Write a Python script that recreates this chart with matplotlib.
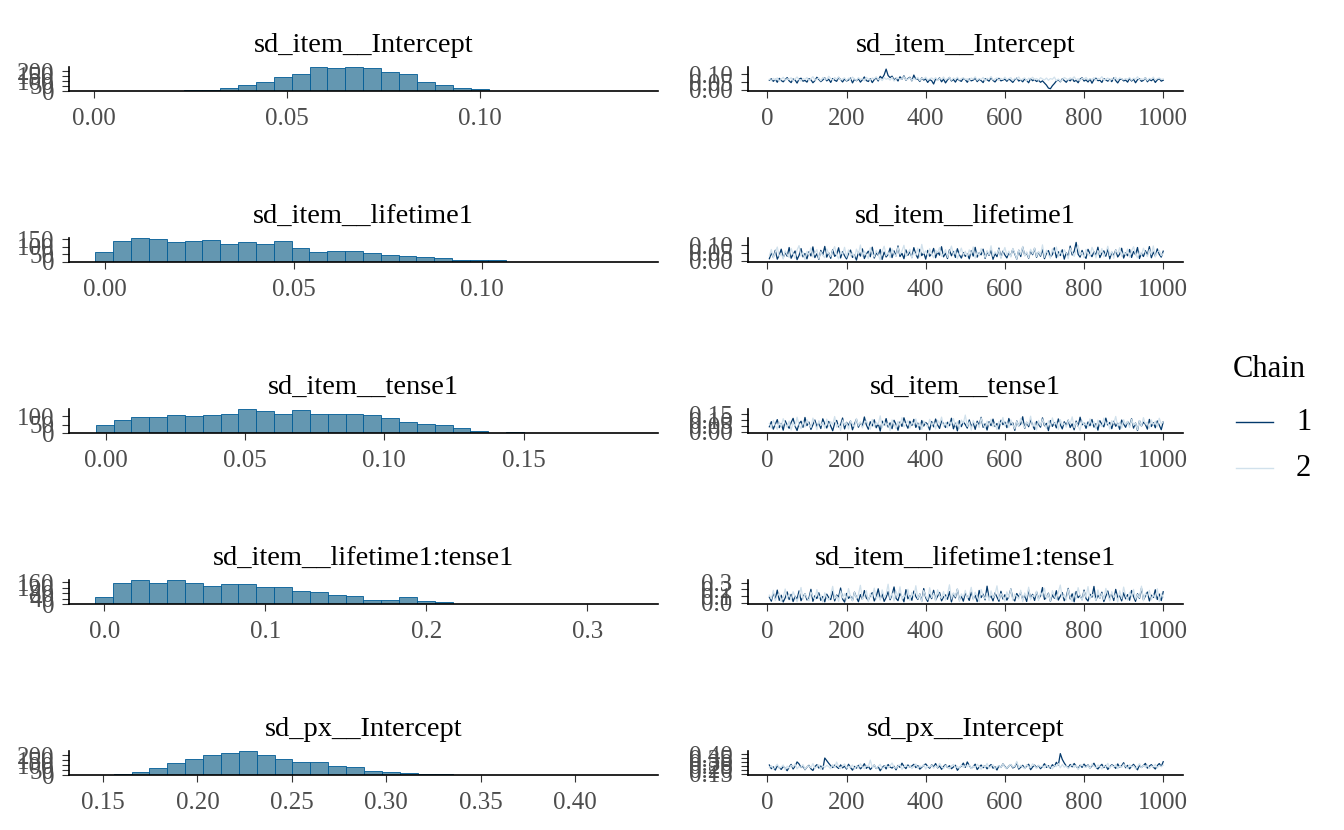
import numpy as np
import matplotlib.pyplot as plt
from matplotlib.lines import Line2D

plt.rcParams['font.family'] = ['Liberation Serif', 'DejaVu Serif']

# ---- data ----
params = ["sd_item__Intercept", "sd_item__lifetime1", "sd_item__tense1",
          "sd_item__lifetime1:tense1", "sd_px__Intercept"]

# histogram bins: first visible bin left edge, bin width, counts
hist_start = [0.0233, -0.0026, -0.0035, -0.0056, 0.1557]
hist_width = [0.00465, 0.00473, 0.0064, 0.0111, 0.00946]
counts_1 = [13, 13, 27, 60, 87, 137, 167, 240, 227, 240, 227, 187, 167, 87, 60, 27, 17]
counts_2 = [69, 138, 159, 152, 131, 138, 145, 117, 131, 117, 138, 90, 69, 76, 76, 62,
            48, 41, 35, 28, 14, 14, 14]
counts_3 = [50, 79, 92, 92, 107, 98, 107, 113, 142, 130, 111, 136, 111, 111, 111, 105,
            86, 63, 56, 50, 31, 13, 2, 6]
counts_4 = [48, 154, 177, 154, 177, 157, 132, 147, 147, 124, 124, 94, 86, 63, 56, 33,
            33, 48, 25, 18]
counts_5 = [11, 33, 67, 123, 167, 201, 223, 246, 201, 167, 134, 134, 89, 78, 45, 33, 22, 11, 11]
hist_counts = [counts_1, counts_2, counts_3, counts_4, counts_5]

# axis limits (value axis, shared by hist x and trace y)
value_lims = [(-0.0065, 0.1463), (-0.0095, 0.1466), (-0.0130, 0.1982),
              (-0.0218, 0.3438), (0.1322, 0.4438)]
hist_yticks = [[0, 50, 100, 150, 200], [0, 50, 100, 150], [0, 50, 100],
               [0, 40, 80, 120, 160], [0, 50, 100, 150, 200]]
value_ticks = [[0.00, 0.05, 0.10], [0.00, 0.05, 0.10], [0.00, 0.05, 0.10, 0.15],
               [0.0, 0.1, 0.2, 0.3], [0.15, 0.20, 0.25, 0.30, 0.35, 0.40]]
value_fmt = ["%.2f", "%.2f", "%.2f", "%.1f", "%.2f"]

# trace draws (in thousandths), every 5th iteration
iterations = np.arange(5, 1001, 5)
iter_ticks = [0, 200, 400, 600, 800, 1000]

trace_1_c1 = [62, 71, 55, 68, 49, 74, 60, 52, 66, 79, 58, 47, 70, 63, 44, 69, 75, 56, 61, 50,
              72, 65, 46, 59, 81, 67, 53, 64, 77, 58, 69, 48, 73, 62, 55, 80, 66, 51, 70, 57,
              63, 76, 45, 68, 59, 72, 50, 65, 83, 60, 54, 71, 47, 66, 78, 57, 87, 74, 96, 133,
              92, 79, 88, 64, 75, 57, 84, 69, 90, 62, 73, 81, 58, 95, 67, 71, 54, 77, 63, 70,
              48, 66, 59, 38, 71, 63, 77, 52, 69, 45, 64, 80, 57, 67, 50, 72, 61, 55, 74, 66,
              49, 70, 58, 63, 76, 53, 68, 60, 47, 72, 65, 56, 79, 61, 51, 67, 74, 58, 63, 69,
              55, 71, 60, 48, 66, 75, 57, 64, 52, 70, 61, 46, 73, 59, 67, 54, 62, 49, 58, 44,
              31, 12, 8, 27, 41, 57, 65, 52, 71, 60, 49, 67, 58, 73, 54, 62, 46, 69, 78, 57,
              64, 51, 70, 43, 66, 75, 59, 62, 48, 72, 64, 56, 68, 53, 77, 60, 45, 66, 71, 58,
              63, 50, 74, 57, 69, 46, 65, 72, 55, 61, 78, 52, 67, 59, 70, 48, 64, 73, 56, 62]
trace_1_c2 = [68, 59, 74, 63, 77, 56, 69, 81, 61, 72, 66, 78, 58, 70, 83, 64, 57, 73, 67, 79,
              60, 71, 85, 62, 69, 76, 58, 80, 72, 66, 87, 74, 61, 79, 68, 83, 63, 71, 77, 59,
              75, 66, 82, 70, 61, 78, 67, 73, 58, 80, 69, 62, 76, 71, 84, 65, 73, 60, 79, 68,
              74, 63, 81, 57, 70, 77, 66, 72, 85, 64, 69, 78, 61, 73, 67, 80, 59, 75, 70, 82,
              63, 71, 77, 66, 79, 60, 74, 68, 83, 65, 72, 79, 62, 76, 69, 81, 64, 73, 78, 67,
              71, 58, 76, 69, 84, 62, 73, 66, 80, 59, 75, 68, 86, 64, 70, 77, 61, 74, 67, 82,
              65, 72, 79, 60, 74, 68, 83, 63, 71, 77, 58, 75, 69, 81, 66, 73, 62, 78, 70, 64,
              76, 61, 73, 68, 82, 59, 70, 55, 66, 79, 72, 63, 77, 69, 84, 65, 71, 60, 75, 68,
              80, 64, 72, 67, 78, 61, 74, 70, 85, 63, 69, 76, 58, 73, 66, 81, 62, 77, 71, 65,
              73, 68, 79, 62, 75, 70, 84, 64, 71, 66, 78, 60, 74, 69, 82, 63, 72, 76, 67, 70]

trace_2_c1 = [12, 48, 21, 67, 9, 35, 74, 18, 52, 28, 85, 15, 41, 62, 6, 33, 78, 24, 46, 11,
              57, 30, 89, 19, 44, 8, 66, 37, 92, 22, 50, 14, 71, 27, 40, 83, 17, 58, 31, 10,
              45, 68, 20, 36, 3, 54, 29, 76, 13, 42, 61, 25, 87, 16, 49, 34, 72, 7, 55, 23,
              39, 81, 19, 63, 30, 95, 26, 47, 12, 69, 34, 58, 21, 84, 40, 15, 73, 32, 51, 9,
              66, 28, 44, 79, 18, 56, 35, 90, 24, 48, 13, 70, 31, 59, 20, 77, 38, 16, 52, 27,
              43, 11, 64, 29, 86, 22, 50, 37, 74, 14, 57, 33, 68, 8, 45, 25, 81, 19, 61, 36,
              17, 53, 30, 75, 42, 10, 67, 26, 88, 34, 49, 15, 62, 38, 79, 21, 55, 28, 71, 12,
              46, 65, 24, 39, 83, 18, 57, 32, 70, 9, 51, 27, 94, 36, 60, 118, 41, 22, 66, 30,
              14, 73, 44, 25, 58, 35, 87, 19, 48, 63, 28, 77, 11, 54, 33, 69, 23, 42, 80, 16,
              50, 31, 72, 20, 59, 38, 85, 13, 47, 26, 64, 36, 91, 18, 55, 29, 76, 40, 22, 61]
trace_2_c2 = [31, 72, 16, 55, 88, 25, 46, 10, 63, 39, 20, 79, 43, 14, 68, 97, 29, 52, 7, 60,
              37, 82, 23, 49, 71, 12, 58, 33, 18, 75, 45, 26, 64, 91, 35, 11, 57, 40, 86, 22,
              69, 30, 50, 17, 74, 42, 101, 27, 61, 36, 13, 83, 47, 24, 66, 38, 5, 59, 93, 32,
              53, 19, 76, 44, 28, 87, 41, 62, 99, 26, 48, 73, 15, 56, 34, 80, 22, 105, 45, 63,
              30, 77, 41, 18, 67, 52, 84, 27, 43, 71, 21, 58, 94, 36, 64, 12, 49, 81, 33, 60,
              25, 70, 39, 89, 16, 54, 31, 78, 46, 20, 65, 37, 96, 28, 57, 42, 74, 14, 51, 85,
              34, 61, 23, 79, 48, 11, 68, 40, 92, 29, 56, 18, 73, 44, 83, 26, 59, 35, 102, 21,
              67, 38, 15, 76, 50, 88, 24, 62, 32, 70, 47, 13, 81, 55, 27, 64, 98, 36, 53, 19,
              72, 43, 29, 86, 58, 17, 65, 39, 78, 24, 51, 93, 33, 60, 14, 69, 45, 84, 28, 56,
              37, 75, 21, 63, 90, 42, 18, 57, 34, 80, 49, 26, 71, 38, 95, 23, 54, 66, 31, 47]

trace_3_c1 = [42, 87, 21, 63, 105, 34, 71, 12, 95, 56, 28, 79, 116, 47, 9, 68, 91, 37, 124, 52,
              83, 18, 60, 101, 44, 75, 26, 112, 65, 31, 89, 49, 7, 72, 98, 40, 61, 119, 23, 81,
              55, 93, 15, 67, 108, 38, 77, 46, 128, 59, 20, 86, 50, 103, 33, 70, 4, 92, 57, 114,
              39, 76, 25, 99, 62, 11, 84, 45, 121, 66, 29, 90, 53, 107, 36, 74, 17, 97, 48, 80,
              63, 14, 88, 41, 110, 58, 27, 94, 69, 35, 82, 51, 117, 24, 73, 6, 96, 43, 85, 61,
              30, 102, 47, 78, 19, 91, 56, 125, 37, 68, 13, 87, 52, 109, 44, 71, 22, 99, 60, 83,
              34, 115, 58, 76, 10, 93, 49, 66, 130, 27, 81, 42, 104, 55, 18, 89, 64, 38, 120, 50,
              72, 8, 97, 45, 79, 32, 111, 61, 23, 86, 54, 100, 35, 68, 15, 92, 47, 126, 59, 74,
              28, 84, 51, 106, 39, 70, 12, 95, 63, 41, 118, 57, 80, 25, 90, 46, 73, 19, 101, 66,
              37, 88, 53, 113, 30, 75, 9, 96, 48, 82, 62, 21, 107, 44, 78, 33, 93, 56, 16, 85]
trace_3_c2 = [71, 30, 98, 54, 19, 83, 46, 113, 67, 38, 92, 13, 76, 49, 126, 58, 25, 88, 41, 104,
              62, 35, 118, 73, 16, 95, 52, 81, 28, 109, 44, 87, 60, 132, 37, 69, 10, 100, 55, 78,
              23, 94, 65, 39, 115, 50, 86, 32, 72, 97, 57, 20, 106, 43, 80, 61, 138, 34, 91, 48,
              75, 8, 102, 64, 27, 89, 53, 123, 40, 70, 96, 31, 84, 59, 111, 45, 74, 18, 93, 66,
              39, 107, 56, 82, 22, 99, 68, 127, 47, 79, 33, 90, 61, 114, 51, 86, 26, 101, 72, 145,
              44, 85, 12, 97, 58, 76, 35, 119, 63, 29, 92, 54, 108, 41, 71, 17, 88, 66, 124, 49,
              80, 36, 103, 60, 24, 91, 47, 116, 69, 31, 84, 57, 135, 42, 77, 14, 98, 52, 110, 65,
              28, 94, 45, 120, 62, 86, 19, 105, 55, 73, 38, 99, 67, 129, 34, 81, 50, 11, 95, 59,
              76, 40, 112, 53, 87, 26, 100, 64, 43, 118, 58, 82, 21, 96, 70, 133, 46, 79, 30, 104,
              61, 89, 35, 108, 54, 74, 15, 97, 48, 122, 66, 83, 29, 102, 57, 91, 42, 117, 68, 85]

trace_4_c1 = [82, 21, 145, 58, 190, 34, 112, 9, 71, 163, 46, 125, 15, 97, 52, 178, 28, 88, 136, 40,
              67, 202, 19, 104, 61, 149, 33, 93, 11, 128, 75, 45, 171, 25, 115, 86, 222, 54, 7, 139,
              63, 100, 31, 158, 78, 13, 121, 49, 183, 69, 37, 108, 152, 24, 90, 210, 56, 132, 18, 77,
              167, 43, 119, 238, 65, 29, 141, 83, 12, 196, 58, 106, 35, 175, 92, 47, 131, 22, 214, 73,
              16, 124, 60, 187, 39, 98, 154, 27, 84, 117, 50, 168, 10, 135, 71, 204, 42, 96, 21, 142,
              88, 33, 160, 57, 112, 14, 185, 76, 128, 41, 250, 65, 103, 26, 147, 81, 19, 172, 54, 119,
              37, 93, 208, 62, 24, 138, 86, 155, 45, 110, 17, 193, 70, 126, 32, 164, 59, 101, 229, 48,
              79, 143, 20, 118, 66, 181, 38, 97, 152, 28, 87, 216, 55, 133, 12, 169, 74, 109, 44, 190,
              61, 23, 127, 83, 246, 35, 114, 68, 158, 15, 95, 176, 50, 139, 31, 201, 72, 104, 26, 150,
              57, 121, 36, 184, 90, 18, 134, 63, 219, 42, 99, 160, 25, 113, 77, 195, 47, 130, 30, 165]
trace_4_c2 = [113, 54, 187, 30, 95, 142, 18, 79, 207, 62, 127, 40, 166, 87, 12, 109, 229, 51, 138, 74,
              26, 161, 91, 45, 198, 67, 118, 8, 150, 83, 35, 120, 247, 59, 103, 19, 176, 72, 134, 42,
              214, 88, 28, 156, 64, 122, 263, 47, 97, 181, 15, 139, 76, 220, 53, 110, 36, 193, 81, 128,
              280, 61, 145, 24, 172, 93, 240, 49, 116, 70, 203, 33, 152, 86, 257, 58, 131, 11, 184, 99,
              44, 226, 75, 141, 27, 195, 106, 62, 169, 38, 125, 271, 54, 148, 90, 212, 17, 133, 79, 186,
              65, 117, 232, 41, 158, 84, 14, 199, 102, 57, 143, 29, 178, 71, 123, 255, 46, 137, 92, 20,
              163, 78, 209, 36, 129, 96, 52, 188, 13, 146, 69, 234, 43, 111, 85, 174, 31, 154, 100, 218,
              59, 135, 22, 182, 94, 48, 160, 267, 73, 119, 39, 205, 87, 16, 149, 63, 227, 108, 34, 171,
              82, 243, 55, 126, 98, 30, 192, 68, 140, 45, 216, 115, 25, 167, 76, 132, 9, 180, 60, 236,
              104, 37, 157, 89, 201, 51, 124, 73, 250, 28, 144, 95, 186, 42, 118, 66, 211, 19, 137, 83]

trace_5_c1 = [262, 214, 238, 196, 251, 227, 205, 243, 219, 188, 234, 270, 210, 247, 302, 276, 229, 247, 201, 236,
              258, 213, 191, 240, 266, 222, 248, 207, 353, 318, 284, 253, 229, 260, 239, 217, 264, 225, 246, 209,
              272, 230, 195, 244, 221, 258, 212, 236, 279, 218, 247, 203, 233, 261, 216, 241, 187, 228, 252, 211,
              269, 235, 222, 246, 199, 257, 231, 286, 243, 215, 263, 237, 249, 271, 228, 255, 208, 232, 259, 276,
              244, 220, 265, 238, 281, 224, 250, 206, 242, 268, 229, 253, 214, 237, 259, 193, 226, 248, 287, 231,
              302, 256, 219, 241, 273, 203, 235, 262, 227, 250, 212, 245, 268, 221, 239, 197, 254, 230, 276, 243,
              216, 249, 267, 224, 238, 290, 208, 233, 258, 219, 247, 272, 201, 236, 261, 228, 255, 214, 243, 279,
              230, 253, 219, 266, 242, 297, 261, 410, 335, 288, 250, 227, 269, 238, 282, 246, 215, 259, 231, 274,
              240, 263, 222, 251, 285, 233, 210, 246, 271, 228, 257, 204, 239, 266, 249, 218, 276, 235, 252, 292,
              226, 258, 213, 244, 271, 237, 199, 262, 230, 255, 283, 221, 248, 267, 235, 210, 254, 281, 242, 305]
trace_5_c2 = [228, 255, 207, 241, 273, 219, 236, 262, 198, 247, 221, 258, 234, 276, 212, 245, 230, 267, 205, 239,
              252, 226, 281, 217, 243, 264, 203, 249, 231, 257, 240, 213, 268, 227, 301, 238, 215, 254, 276, 222,
              246, 233, 262, 208, 250, 224, 279, 235, 213, 256, 242, 325, 229, 261, 218, 244, 271, 211, 237, 259,
              226, 252, 288, 234, 219, 248, 266, 204, 240, 263, 231, 257, 215, 244, 276, 222, 250, 238, 268, 209,
              247, 235, 261, 220, 254, 229, 283, 241, 216, 259, 237, 212, 251, 270, 226, 245, 218, 263, 233, 255,
              239, 266, 214, 249, 227, 272, 243, 206, 258, 232, 284, 220, 247, 263, 211, 240, 255, 229, 274, 236,
              218, 251, 270, 233, 246, 309, 224, 259, 237, 213, 266, 242, 228, 278, 250, 217, 261, 235, 253, 224,
              263, 229, 247, 211, 256, 240, 282, 225, 268, 234, 251, 216, 243, 272, 229, 258, 204, 246, 265, 237,
              231, 257, 219, 275, 243, 226, 262, 248, 210, 254, 238, 284, 221, 259, 236, 267, 214, 249, 230, 273,
              244, 220, 266, 235, 253, 212, 241, 279, 226, 257, 233, 262, 217, 250, 238, 271, 224, 256, 242, 260]

traces = [(trace_1_c1, trace_1_c2), (trace_2_c1, trace_2_c2), (trace_3_c1, trace_3_c2),
          (trace_4_c1, trace_4_c2), (trace_5_c1, trace_5_c2)]
chains = ["1", "2"]

# ---- style ----
FILL, EDGE = "#6497b1", "#005b96"
CHAIN_COLORS = ["#03396c", "#d1e1ec"]
TICK_TXT = "#4d4d4d"
W, H = 1344, 830


def style_axes(ax):
    for s in ("top", "right"):
        ax.spines[s].set_visible(False)
    for s in ("left", "bottom"):
        ax.spines[s].set_linewidth(1.2)
        ax.spines[s].set_color("black")
    ax.tick_params(axis="both", length=5, width=0.8, color="#333333",
                   labelcolor=TICK_TXT, labelsize=18)
    ax.tick_params(axis="x", pad=7)
    ax.tick_params(axis="y", pad=6)


def px_axes(fig, x0, x1, base, h=24):
    return fig.add_axes([x0 / W, 1 - base / H, (x1 - x0) / W, h / H])


fig = plt.figure(figsize=(W / 100, H / 100), dpi=100)

for i, name in enumerate(params):
    base = 91 + 171 * i

    # histogram
    ax = px_axes(fig, 69.3, 658, base)
    cnt = hist_counts[i]
    edges = hist_start[i] + hist_width[i] * np.arange(len(cnt))
    ax.bar(edges, cnt, width=hist_width[i], align="edge", color=FILL,
           edgecolor=EDGE, linewidth=0.6)
    ax.set_xlim(*value_lims[i])
    ax.set_ylim(0, max(cnt))
    ax.set_xticks(value_ticks[i])
    ax.set_xticklabels([value_fmt[i] % v for v in value_ticks[i]])
    ax.set_yticks(hist_yticks[i])
    style_axes(ax)
    ax.set_title(name, fontsize=20.5, color="black", pad=11)

    # trace
    ax = px_axes(fig, 748, 1183, base)
    for vals, col in zip(traces[i], CHAIN_COLORS):
        ax.plot(iterations, np.array(vals) / 1000, color=col, lw=0.9)
    ax.set_xlim(1 - 0.05 * 999, 1000 + 0.05 * 999)
    ax.set_ylim(*value_lims[i])
    ax.set_xticks(iter_ticks)
    ax.set_yticks(value_ticks[i])
    ax.set_yticklabels([value_fmt[i] % v for v in value_ticks[i]])
    style_axes(ax)
    ax.set_title(name, fontsize=20.5, color="black", pad=11)

# legend
fig.text(1233 / W, 1 - 369 / H, "Chain", fontsize=22, ha="left", va="center")
for k, (lab, col) in enumerate(zip(chains, CHAIN_COLORS)):
    y = 1 - (422 + 46 * k) / H
    fig.add_artist(Line2D([1236 / W, 1273 / W], [y, y], color=col, lw=1.0,
                          transform=fig.transFigure))
    fig.text(1296 / W, y, lab, fontsize=22, ha="left", va="center")

fig.savefig("out.png", dpi=100)
